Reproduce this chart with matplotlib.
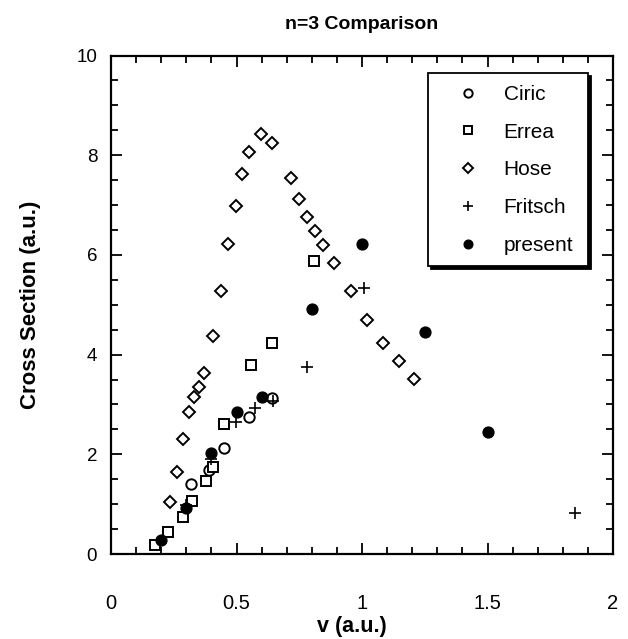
import numpy as np
import matplotlib
matplotlib.use("Agg")
import matplotlib.pyplot as plt
from matplotlib.ticker import MultipleLocator, FixedLocator, FixedFormatter

plt.rcParams['font.family'] = ['Liberation Sans', 'DejaVu Sans']

# Data (v in a.u., cross section in a.u.)
ciric_v = [0.317, 0.392, 0.451, 0.551, 0.640]
ciric_s = [1.40, 1.68, 2.13, 2.75, 3.12]

errea_v = [0.175, 0.228, 0.286, 0.321, 0.378, 0.405, 0.451, 0.557, 0.640, 0.809]
errea_s = [0.18, 0.45, 0.75, 1.07, 1.46, 1.75, 2.60, 3.79, 4.24, 5.88]

hose_v = [0.235, 0.264, 0.288, 0.311, 0.332, 0.352, 0.372, 0.408, 0.438, 0.467,
          0.497, 0.523, 0.550, 0.596, 0.640, 0.716, 0.749, 0.782, 0.814, 0.846,
          0.888, 0.955, 1.021, 1.085, 1.146, 1.208]
hose_s = [1.05, 1.65, 2.30, 2.84, 3.14, 3.35, 3.63, 4.37, 5.28, 6.21,
          6.99, 7.63, 8.06, 8.42, 8.25, 7.55, 7.13, 6.76, 6.47, 6.19,
          5.83, 5.27, 4.69, 4.24, 3.87, 3.51]

fritsch_v = [0.30, 0.40, 0.498, 0.574, 0.647, 0.78, 1.008, 1.85]
fritsch_s = [0.98, 1.90, 2.65, 2.92, 3.07, 3.75, 5.34, 0.82]

present_v = [0.20, 0.30, 0.40, 0.50, 0.60, 0.80, 1.00, 1.25, 1.50]
present_s = [0.29, 0.93, 2.03, 2.85, 3.15, 4.91, 6.22, 4.46, 2.45]

x_ticks = [0, 0.5, 1, 1.5, 2]
x_tick_labels = ["0", "0.5", "1", "1.5", "2"]
y_ticks = [0, 2, 4, 6, 8, 10]

fig = plt.figure(figsize=(6.28, 6.39), dpi=100)
ax = fig.add_axes([0.1768, 0.1330, 0.7994, 0.7801])

open_kw = dict(linestyle='none', markerfacecolor='white', markeredgecolor='black',
               markeredgewidth=1.4)
ax.plot(ciric_v, ciric_s, marker='o', markersize=7.5, label='Ciric', **open_kw)
ax.plot(errea_v, errea_s, marker='s', markersize=7.5, label='Errea', **open_kw)
ax.plot(hose_v, hose_s, marker='D', markersize=6.3, label='Hose', **open_kw)
ax.plot(fritsch_v, fritsch_s, marker='+', markersize=9, markeredgewidth=1.2,
        color='black', linestyle='none', label='Fritsch')
ax.plot(present_v, present_s, marker='o', markersize=7.8, color='black',
        linestyle='none', label='present')

ax.set_xlim(0, 2)
ax.set_ylim(0, 10)

# ticks on all four sides, pointing in
ax.xaxis.set_major_locator(FixedLocator(x_ticks))
ax.xaxis.set_major_formatter(FixedFormatter(x_tick_labels))
ax.xaxis.set_minor_locator(MultipleLocator(0.1))
ax.yaxis.set_major_locator(FixedLocator(y_ticks))
ax.yaxis.set_minor_locator(MultipleLocator(0.5))
ax.tick_params(which='both', direction='in', top=True, right=True, width=1.3)
ax.tick_params(which='major', length=8)
ax.tick_params(which='minor', length=5)
ax.tick_params(axis='x', which='major', pad=29, labelsize=14.5)
ax.tick_params(axis='y', which='major', pad=10, labelsize=13.5)
for sp in ax.spines.values():
    sp.set_linewidth(1.6)

ax.set_title('n=3 Comparison', fontsize=14, fontweight='bold', pad=19)
ax.set_xlabel('v (a.u.)', fontsize=15.5, fontweight='bold')
ax.set_ylabel('Cross Section (a.u.)', fontsize=16, fontweight='bold')
ax.xaxis.set_label_coords(0.48, -0.125)
ax.yaxis.set_label_coords(-0.14, 0.5)

leg = ax.legend(loc='upper left', bbox_to_anchor=(0.631, 0.579, 0.319, 0.385),
                mode='expand', borderaxespad=0, fontsize=15, frameon=True,
                fancybox=False, edgecolor='black', borderpad=0.55,
                handlelength=2.8, handletextpad=0.29, labelspacing=0.9,
                markerscale=0.8, shadow={'color': 'black', 'alpha': 1})
leg.get_frame().set_linewidth(1.3)

fig.savefig('out.png', dpi=100)
